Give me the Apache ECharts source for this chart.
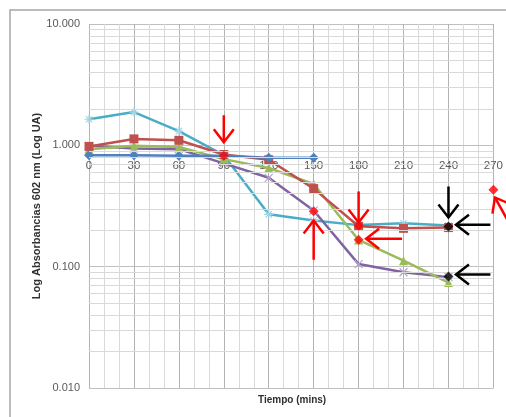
<!DOCTYPE html>
<html><head><meta charset="utf-8">
<script src="https://cdn.jsdelivr.net/npm/echarts@6/dist/echarts.min.js"></script>
<style>html,body{margin:0;padding:0;background:#fff}#c{width:506px;height:417px}</style>
</head><body><div id="c"></div>
<script>
const times = [0, 30, 60, 90, 120, 150, 180, 210, 240];
const xTickLabels = ['0','30','60','90','120','150','180','210','240','270'];
const yTickLabels = ['0.010','0.100','1.000','10.000'];
const blue   = [0.83, 0.83, 0.82, 0.82, 0.79, 0.79];
const red    = [0.98, 1.13, 1.10, 0.84, 0.76, 0.44, 0.215, 0.207, 0.21];
const green  = [0.93, 0.99, 0.97, 0.77, 0.65, 0.48, 0.166, 0.112, 0.074];
const purple = [0.99, 0.94, 0.93, 0.71, 0.54, 0.29, 0.105, 0.09, 0.082];
const cyan   = [1.64, 1.88, 1.31, 0.83, 0.27, 0.24, 0.22, 0.228, 0.218];
const redPointsX = [90, 150, 180, 180, 270];
const redPointsY = [0.82, 0.286, 0.217, 0.167, 0.43];
const blackPointsX = [240, 240];
const blackPointsY = [0.214, 0.083];
// arrows: [tailX, tailY, tipX, tipY]
const redArrows = [[90,1.77,90,1.06],[150,0.114,150,0.240],[180,0.417,180,0.231],[209,0.170,185,0.170],[287,0.164,271,0.372]];
const blackArrows = [[240,0.458,240,0.254],[268,0.222,245,0.222],[268,0.086,245,0.086]];

const FONT = 'Liberation Sans';
const Y_MIN = 0.01, Y_MAX = 10, X_CROSS = 1;
const GRID = {left: 89, right: 12, top: 24, bottom: 29};
const H = 417;
const plotH = H - GRID.top - GRID.bottom;
// x axis crosses the y axis at value 1 (as in the original): offset from the top edge
const crossOffset = plotH * (Math.log10(Y_MAX) - Math.log10(X_CROSS)) / (Math.log10(Y_MAX) - Math.log10(Y_MIN));

function pairs(xs, ys){ return ys.map((v,i)=>[xs[i], v]); }
const minorY = [];
[0.01, 0.1, 1].forEach(d => { for (let k = 2; k <= 9; k++) minorY.push({yAxis: +(k*d).toPrecision(3)}); });

function arrowSeries(data, color){
  return {
    type: 'custom', data: data, clip: false, silent: true, z: 10,
    encode: {x: [0, 2], y: [1, 3]},
    renderItem: function(params, api){
      const a = api.coord([api.value(0), api.value(1)]);
      const b = api.coord([api.value(2), api.value(3)]);
      const dx = b[0]-a[0], dy = b[1]-a[1];
      const L = Math.hypot(dx, dy), ux = dx/L, uy = dy/L;
      const hl = 13, hw = 10;
      const p1 = [b[0]-ux*hl - uy*hw, b[1]-uy*hl + ux*hw];
      const p2 = [b[0]-ux*hl + uy*hw, b[1]-uy*hl - ux*hw];
      return {type: 'group', children: [
        {type: 'line', shape: {x1: a[0], y1: a[1], x2: b[0], y2: b[1]}, style: {stroke: color, lineWidth: 2.5}},
        {type: 'polyline', shape: {points: [p1, b, p2]}, style: {stroke: color, lineWidth: 2.5, fill: null}}
      ]};
    }
  };
}

const chart = echarts.init(document.getElementById('c'), null, {renderer: 'canvas'});
chart.setOption({
  animation: false,
  backgroundColor: '#fff',
  grid: Object.assign({containLabel: false}, GRID),
  title: {text: 'Tiempo (mins)', left: 253, top: 390,
    textStyle: {fontFamily: FONT, fontSize: 10, fontWeight: 'bold', color: '#303030'}},
  graphic: [{type: 'rect', shape: {x: 10, y: 10, width: 700, height: 700},
    style: {fill: null, stroke: '#a6a6a6', lineWidth: 1.5}, silent: true, z: -1}],
  xAxis: {
    type: 'value', min: 0, max: 270, interval: 30,
    position: 'top', offset: -crossOffset,
    axisLine: {show: true, onZero: false, lineStyle: {color: '#bfbfbf'}},
    axisTick: {show: false},
    minorTick: {show: false, splitNumber: 3},
    minorSplitLine: {show: true, lineStyle: {color: '#d9d9d9', width: 1}},
    splitLine: {show: true, lineStyle: {color: '#b3b3b3', width: 1}},
    axisLabel: {inside: true, margin: 14, color: '#595959', fontFamily: FONT, fontSize: 11.5,
      formatter: v => xTickLabels[Math.round(v/30)]}
  },
  yAxis: {
    type: 'log', logBase: 10, min: Y_MIN, max: Y_MAX,
    name: 'Log Absorbancias 602 nm (Log UA)', nameLocation: 'middle', nameGap: 47,
    nameMoveOverlap: false,
    nameTextStyle: {fontFamily: FONT, fontSize: 11, fontWeight: 'bold', color: '#303030'},
    axisLine: {show: false}, axisTick: {show: false},
    splitLine: {show: true, lineStyle: {color: '#bfbfbf', width: 1}},
    axisLabel: {margin: 9, color: '#595959', fontFamily: FONT, fontSize: 11,
      formatter: v => yTickLabels[Math.round(Math.log10(v)) + 2]}
  },
  series: [
    {type: 'line', data: [], silent: true,
      markLine: {silent: true, symbol: 'none', label: {show: false}, animation: false,
        lineStyle: {color: '#d9d9d9', width: 1, type: 'solid'}, data: minorY}},
    {name: 'cyan', type: 'line', data: pairs(times, cyan), color: '#4BACC6',
      lineStyle: {width: 2.5}, symbol: 'path://M0,5 L10,5 M5,0 L5,10 M1.5,1.5 L8.5,8.5 M8.5,1.5 L1.5,8.5', symbolSize: 9,
      itemStyle: {color: '#4BACC6', borderColor: '#9fd6e6', borderWidth: 1.2}},
    {name: 'purple', type: 'line', data: pairs(times, purple), color: '#8064A2',
      lineStyle: {width: 2.5}, symbol: 'path://M0,0 L10,10 M10,0 L0,10', symbolSize: 8,
      itemStyle: {color: '#8064A2', borderColor: '#b6a5cc', borderWidth: 1.2}},
    {name: 'green', type: 'line', data: pairs(times, green), color: '#9BBB59',
      lineStyle: {width: 2.5}, symbol: 'triangle', symbolSize: 9, itemStyle: {color: '#9BBB59'}},
    {name: 'red', type: 'line', data: pairs(times, red), color: '#C0504D',
      lineStyle: {width: 2.5}, symbol: 'rect', symbolSize: 9, itemStyle: {color: '#C0504D'}},
    {name: 'blue', type: 'line', data: pairs(times, blue), color: '#4F81BD',
      lineStyle: {width: 2.5}, symbol: 'diamond', symbolSize: 10, itemStyle: {color: '#4F81BD'}},
    {type: 'scatter', data: pairs(redPointsX, redPointsY), symbol: 'diamond', symbolSize: 10,
      itemStyle: {color: '#FF0000'}, z: 11, clip: false},
    {type: 'scatter', data: pairs(blackPointsX, blackPointsY), symbol: 'diamond', symbolSize: 10,
      itemStyle: {color: '#000000'}, z: 11, clip: false},
    arrowSeries(redArrows, '#FF0000'),
    arrowSeries(blackArrows, '#000000')
  ]
});
</script></body></html>
